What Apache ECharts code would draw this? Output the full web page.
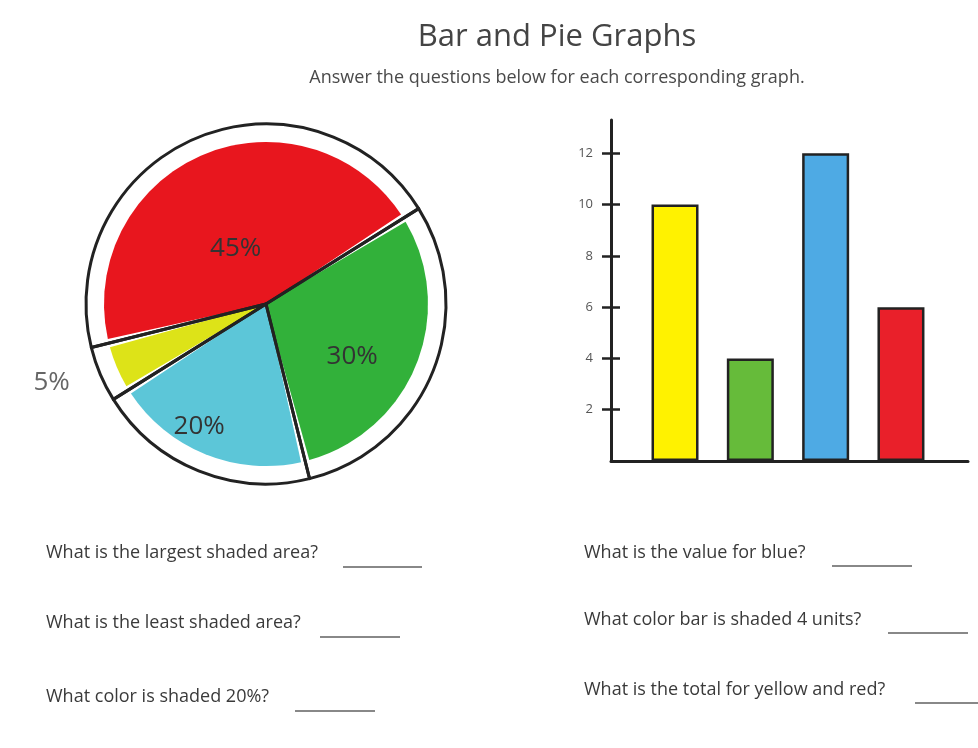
<!DOCTYPE html>
<html>
<head>
<meta charset="utf-8">
<script src="https://cdn.jsdelivr.net/npm/echarts@6/dist/echarts.min.js"></script>
<style>html,body{margin:0;padding:0;background:#fff}#c{width:978px;height:748px}</style>
</head>
<body>
<div id="c"></div>
<script>
// ---- data ----
const pieNames = ['Red', 'Green', 'Cyan', 'Yellow'];
const pieValues = [45, 30, 20, 5];
const pieColors = ['#e8161e', '#32b13a', '#5cc6d8', '#dde318'];

const barCategories = ['Yellow', 'Green', 'Blue', 'Red'];
const barValues = [10, 4, 12, 6];
const barColors = ['#fff200', '#66bb3a', '#4eaae4', '#e9202a'];
const yTickLabels = [2, 4, 6, 8, 10, 12];

const questionsLeft = ['What is the largest shaded area?', 'What is the least shaded area?', 'What color is shaded 20%?'];
const questionsRight = ['What is the value for blue?', 'What color bar is shaded 4 units?', 'What is the total for yellow and red?'];

// ---- chart ----
const FONT = 'Open Sans';
const chart = echarts.init(document.getElementById('c'));

const pieColored = pieNames.map((n, i) => ({ name: n, value: pieValues[i], itemStyle: { color: pieColors[i] } }));
const pieOutline = pieNames.map((n, i) => {
  const item = { name: n, value: pieValues[i] };
  if (pieValues[i] < 10) {
    item.label = { position: 'outside', color: '#666' };
    item.labelLine = { show: false, length: 6, length2: 20 };
  }
  return item;
});
// small hand-drawn style nudges for the inside labels (style only)
const labelNudge = [[6, 30], [0, 18], [-32, 36], [0, 6]];

const barData = barCategories.map((c, i) => ({ name: c, value: [i + 1, barValues[i]], itemStyle: { color: barColors[i] } }));

const leftQX = 46, rightQX = 584;
const leftQY = [553, 623, 697], rightQY = [553, 620, 690];
const leftBlank = [[343, 422], [320, 400], [295, 375]];
const rightBlank = [[832, 912], [888, 968], [915, 995]];
const QFONT = '18px "' + FONT + '"';
const graphics = [];
questionsLeft.forEach((q, i) => {
  graphics.push({ type: 'text', x: leftQX, y: leftQY[i], style: { text: q, font: QFONT, fill: '#3a3a3a', textVerticalAlign: 'middle' } });
  graphics.push({ type: 'line', shape: { x1: leftBlank[i][0], y1: leftQY[i] + 14, x2: leftBlank[i][1], y2: leftQY[i] + 14 }, style: { stroke: '#888', lineWidth: 2 } });
});
questionsRight.forEach((q, i) => {
  graphics.push({ type: 'text', x: rightQX, y: rightQY[i], style: { text: q, font: QFONT, fill: '#3a3a3a', textVerticalAlign: 'middle' } });
  graphics.push({ type: 'line', shape: { x1: rightBlank[i][0], y1: rightQY[i] + 13, x2: rightBlank[i][1], y2: rightQY[i] + 13 }, style: { stroke: '#888', lineWidth: 2 } });
});

chart.setOption({
  backgroundColor: '#fff',
  animation: false,
  title: {
    text: 'Bar and Pie Graphs',
    subtext: 'Answer the questions below for each corresponding graph.',
    left: 552, top: 17, textAlign: 'center', itemGap: 16,
    textStyle: { fontFamily: FONT, fontSize: 31, fontWeight: 'normal', color: '#444' },
    subtextStyle: { fontFamily: FONT, fontSize: 18, color: '#4a4a4a' }
  },
  grid: { left: 611, top: 120, width: 357, height: 341, containLabel: false },
  xAxis: {
    type: 'value', min: 0.15, max: 4.89,
    axisLine: { show: true, lineStyle: { color: '#222', width: 3 } },
    axisTick: { show: false }, axisLabel: { show: false }, splitLine: { show: false }
  },
  yAxis: [{
    type: 'value', min: 0, max: 13.3, position: 'left',
    axisLine: { show: true, onZero: false, lineStyle: { color: '#222', width: 3 } },
    axisTick: { show: true, length: 9, customValues: yTickLabels, lineStyle: { color: '#222', width: 2.5 } },
    axisLabel: { show: true, customValues: yTickLabels, margin: 18, color: '#555', fontSize: 13, fontFamily: FONT },
    splitLine: { show: false }
  }, {
    type: 'value', min: 0, max: 13.3, position: 'left',
    axisLine: { show: false },
    axisTick: { show: true, inside: true, length: 9, customValues: yTickLabels, lineStyle: { color: '#222', width: 2.5 } },
    axisLabel: { show: false }, splitLine: { show: false }
  }],
  series: [
    {
      type: 'pie', center: [266, 304], radius: [0, 162], startAngle: 194, clockwise: true,
      padAngle: 3, silent: true, label: { show: false }, labelLine: { show: false },
      itemStyle: { borderWidth: 0 }, data: pieColored, z: 1
    },
    {
      type: 'pie', center: [266, 304], radius: [0, 180], startAngle: 194, clockwise: true,
      silent: true,
      itemStyle: { color: 'rgba(0,0,0,0)', borderColor: '#222', borderWidth: 3 },
      label: { show: true, position: 'inside', formatter: '{c}%', fontFamily: FONT, fontSize: 26, color: '#333' },
      labelLine: { show: false },
      labelLayout: function (p) {
        const n = labelNudge[p.dataIndex] || [0, 0];
        return { dx: n[0], dy: n[1] };
      },
      data: pieOutline, z: 2
    },
    {
      type: 'bar', xAxisIndex: 0, yAxisIndex: 0, barWidth: 47,
      itemStyle: { borderColor: '#222', borderWidth: 2.5 },
      data: barData, z: 3
    }
  ],
  graphic: graphics
});
</script>
</body>
</html>
